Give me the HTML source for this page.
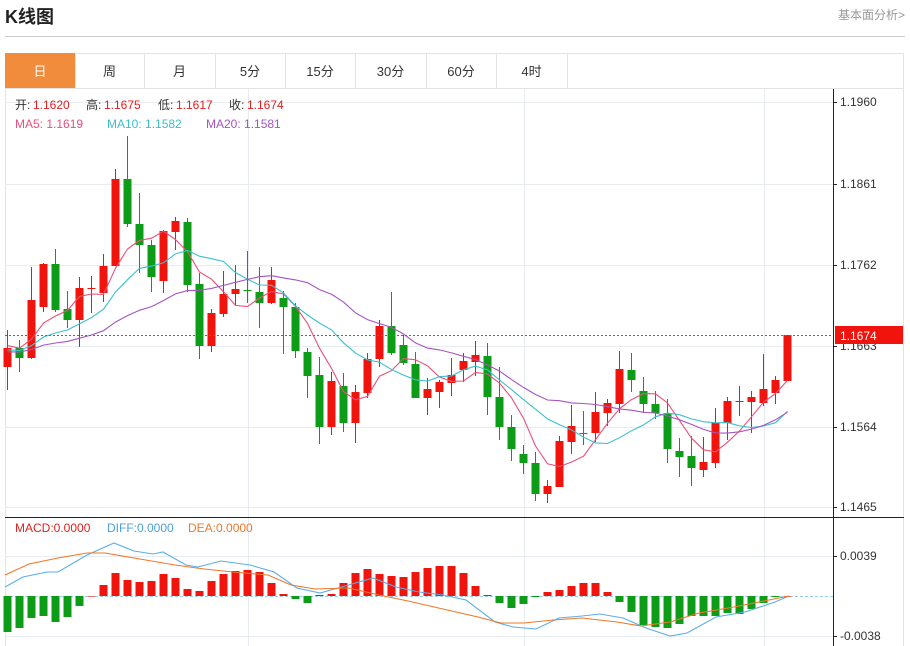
<!DOCTYPE html>
<html><head><meta charset="utf-8">
<style>
body{margin:0;width:910px;height:646px;background:#fff;overflow:hidden;font-family:"Liberation Sans","Noto Sans CJK SC",sans-serif;}
</style></head>
<body>
<svg id="s" width="910" height="646" xmlns="http://www.w3.org/2000/svg" style="position:absolute;left:0;top:0">
<text x="5" y="23" font-size="18" font-weight="bold" fill="#222" font-family="Liberation Sans,Noto Sans CJK SC,sans-serif">K线图</text>
<text x="905" y="19" font-size="12" fill="#999" text-anchor="end" font-family="Liberation Sans,Noto Sans CJK SC,sans-serif">基本面分析&gt;</text>
<line x1="5" y1="36.5" x2="905" y2="36.5" stroke="#ccc"/>
<rect x="5.5" y="53.5" width="898" height="593" fill="none" stroke="#e3e3e3"/>
<line x1="5" y1="88.5" x2="904" y2="88.5" stroke="#e3e3e3"/>
<rect x="5" y="53" width="70" height="35" fill="#f08c3c"/>
<g id="tabs" font-size="13" fill="#333" text-anchor="middle" font-family="Liberation Sans,Noto Sans CJK SC,sans-serif"></g>
<g id="grid"></g>
<g id="chart"></g>
</svg>
<script>
var NS="http://www.w3.org/2000/svg";
function el(p,t,a,txt){var e=document.createElementNS(NS,t);for(var k in a)e.setAttribute(k,a[k]);if(txt!==undefined)e.textContent=txt;p.appendChild(e);return e;}
var tabs=document.getElementById('tabs'),grid=document.getElementById('grid'),ch=document.getElementById('chart');
var tn=["日","周","月","5分","15分","30分","60分","4时"],tx=[5,75,144,215,285,355,426,496,567];
for(var i=0;i<8;i++){el(tabs,'text',{x:(tx[i]+tx[i+1])/2,y:76,fill:i==0?'#fff':'#333'},tn[i]);el(grid,'line',{x1:tx[i+1]+.5,y1:53,x2:tx[i+1]+.5,y2:88,stroke:'#e3e3e3'});}
[102,184,265,346,427,507].forEach(function(y){el(grid,'line',{x1:5,y1:y+.5,x2:833,y2:y+.5,stroke:'#e8ecf0'});});
[556,636].forEach(function(y){el(grid,'line',{x1:5,y1:y+.5,x2:833,y2:y+.5,stroke:'#e8ecf0'});});
[248,524,764].forEach(function(x){el(grid,'line',{x1:x+.5,y1:89,x2:x+.5,y2:646,stroke:'#e8ecf0'});});
el(grid,'line',{x1:833.5,y1:89,x2:833.5,y2:646,stroke:'#222'});
el(grid,'line',{x1:5,y1:517.5,x2:904,y2:517.5,stroke:'#222'});
var labs=[[102,"1.1960"],[184,"1.1861"],[265,"1.1762"],[346,"1.1663"],[427,"1.1564"],[507,"1.1465"],[556,"0.0039"],[636,"-0.0038"]];
labs.forEach(function(l){el(grid,'line',{x1:833,y1:l[0]+.5,x2:837,y2:l[0]+.5,stroke:'#222'});el(grid,'text',{x:840,y:l[0]+4,'font-size':12,fill:'#333'},l[1]);});
var C=[
['r',348,367,330,390],['g',348,358,340,372],['r',300,358,267,359],['r',264,307,263,312],['g',264,310,249,312],
['g',309,320,291,328],['r',288,320,277,347],['r',288,289,276,313],['r',266,293,254,302],['r',179,266,169,266],
['g',179,224,136,227],['g',224,245,193,273],['g',245,277,240,292],['r',231,281,230,293],['r',221,232,217,250],
['g',222,285,218,292],['g',284,346,273,359],['r',313,346,309,352],['r',294,314,271,317],['r',289,294,265,305],
['g',290,291,251,303],['g',292,303,267,328],['r',280,303,267,304],['g',298,307,291,354],['g',307,351,303,358],
['g',352,376,348,398],['g',375,427,357,444],['r',381,427,372,435],['g',386,423,373,432],['r',392,423,385,443],
['r',359,393,353,398],['r',326,359,320,367],['g',326,353,292,355],['g',345,363,335,365],['g',364,398,352,398],
['r',389,398,378,415],['r',382,392,380,408],['r',375,383,358,396],['r',361,370,353,382],['r',355,362,341,376],
['g',356,397,343,415],['g',397,427,367,440],['g',427,449,415,461],['g',454,463,445,474],['g',463,494,452,501],
['r',486,494,480,503],['r',441,487,436,487],['r',426,442,405,454],['g',433,434,411,445],['r',412,433,392,442],
['r',403,413,399,426],['r',369,404,351,413],['g',370,380,353,392],['g',391,404,377,412],['g',404,413,391,419],
['g',413,449,399,463],['g',451,457,438,477],['g',456,468,436,486],['r',462,470,437,477],['r',423,463,408,468],
['r',401,423,397,440],['r',401,402,386,416],['r',397,402,391,433],['r',389,403,354,406],['r',380,393,376,404],
['r',335,381,335,381]];
var RED='#f0140c',GRN='#0c9c18';
var closes=[];
C.forEach(function(c,i){var x=7+12*i,col=c[0]=='r'?RED:GRN;
 el(ch,'line',{x1:x+.5,y1:c[3],x2:x+.5,y2:c[4],stroke:col});
 el(ch,'rect',{x:x-3.5,y:c[1],width:8,height:Math.max(1,c[2]-c[1]),fill:col});
 closes.push(c[0]=='r'?c[1]:c[2]);});
function ma(n,color,pre){var pts=[];for(var i=0;i<closes.length;i++){var s=0,k=0;for(var j=Math.max(0,i-n+1);j<=i;j++){s+=closes[j];k++;}
 var v=s/k; if(i<n-1){v=(s+pre*(n-k))/n;} pts.push((7+12*i+.5)+','+v.toFixed(1));}
 el(ch,'polyline',{points:pts.join(' '),fill:'none',stroke:color,'stroke-width':1.1});}
ma(5,'#e8507a',345);ma(10,'#3cc0cc',350);ma(20,'#a455c0',352);
el(ch,'line',{x1:5,y1:335.5,x2:833,y2:335.5,stroke:'#f03030','stroke-dasharray':'2,2'});
el(ch,'rect',{x:835,y:326,width:68,height:18,fill:'#f0140c'});
el(ch,'text',{x:840,y:340,'font-size':12,fill:'#fff'},'1.1674');
function tt(x,y,s,c){el(ch,'text',{x:x,y:y,'font-size':12,fill:c,'font-family':'Liberation Sans,Noto Sans CJK SC,sans-serif'},s);}
tt(15,109,'开:','#333');tt(33,109,'1.1620','#e02020');
tt(86,109,'高:','#333');tt(104,109,'1.1675','#e02020');
tt(158,109,'低:','#333');tt(176,109,'1.1617','#e02020');
tt(229,109,'收:','#333');tt(247,109,'1.1674','#e02020');
tt(15,128,'MA5: 1.1619','#e8507a');tt(107,128,'MA10: 1.1582','#3cc0cc');tt(206,128,'MA20: 1.1581','#a455c0');
tt(15,532,'MACD:0.0000','#e02020');tt(107,532,'DIFF:0.0000','#4aa0e0');tt(188,532,'DEA:0.0000','#f07828');
el(ch,'line',{x1:5,y1:596.5,x2:833,y2:596.5,stroke:'#9cd0e8','stroke-dasharray':'3,2'});
var M=[632,628,618,616,622,617,606,596,585,573,580,582,581,574,578,589,591,581,574,571,570,572,583,594,599,603,595,594,583,573,569,574,576,577,572,568,566,566,573,586,595,603,608,604,597,592,590,586,583,583,592,602,612,625,627,628,624,616,616,616,613,614,609,603,597,596];
M.forEach(function(y,i){var x=7+12*i;var h=y-596;var col=h>0?GRN:RED;if(Math.abs(h)<1){el(ch,'line',{x1:x-3,y1:596.5,x2:x+4,y2:596.5,stroke:'#e07070'});return;}
 el(ch,'rect',{x:x-3.5,y:Math.min(y,596),width:8,height:Math.abs(h),fill:col});});
el(ch,'polyline',{fill:'none',stroke:'#5aaee8','stroke-width':1.1,points:'5,587 23,577 47,572 58,572 87,555 114,543 134,551 153,554 163,552 186,565 198,567 221,561 250,565 274,572 297,588 320,593 338,588 373,578 396,587 419,592 443,595 466,600 495,622 513,627 536,629 559,618 582,616 600,614 623,618 646,628 670,636 687,633 716,617 745,612 775,602 789,596'});
el(ch,'polyline',{fill:'none',stroke:'#f07828','stroke-width':1.1,points:'5,575 29,564 58,558 87,553 105,553 134,558 175,565 204,569 233,572 268,575 291,585 315,589 349,588 379,595 408,601 443,609 478,617 501,623 524,623 553,620 582,618 617,622 641,626 670,622 699,613 734,607 769,600 789,596'});
</script>
</body></html>
